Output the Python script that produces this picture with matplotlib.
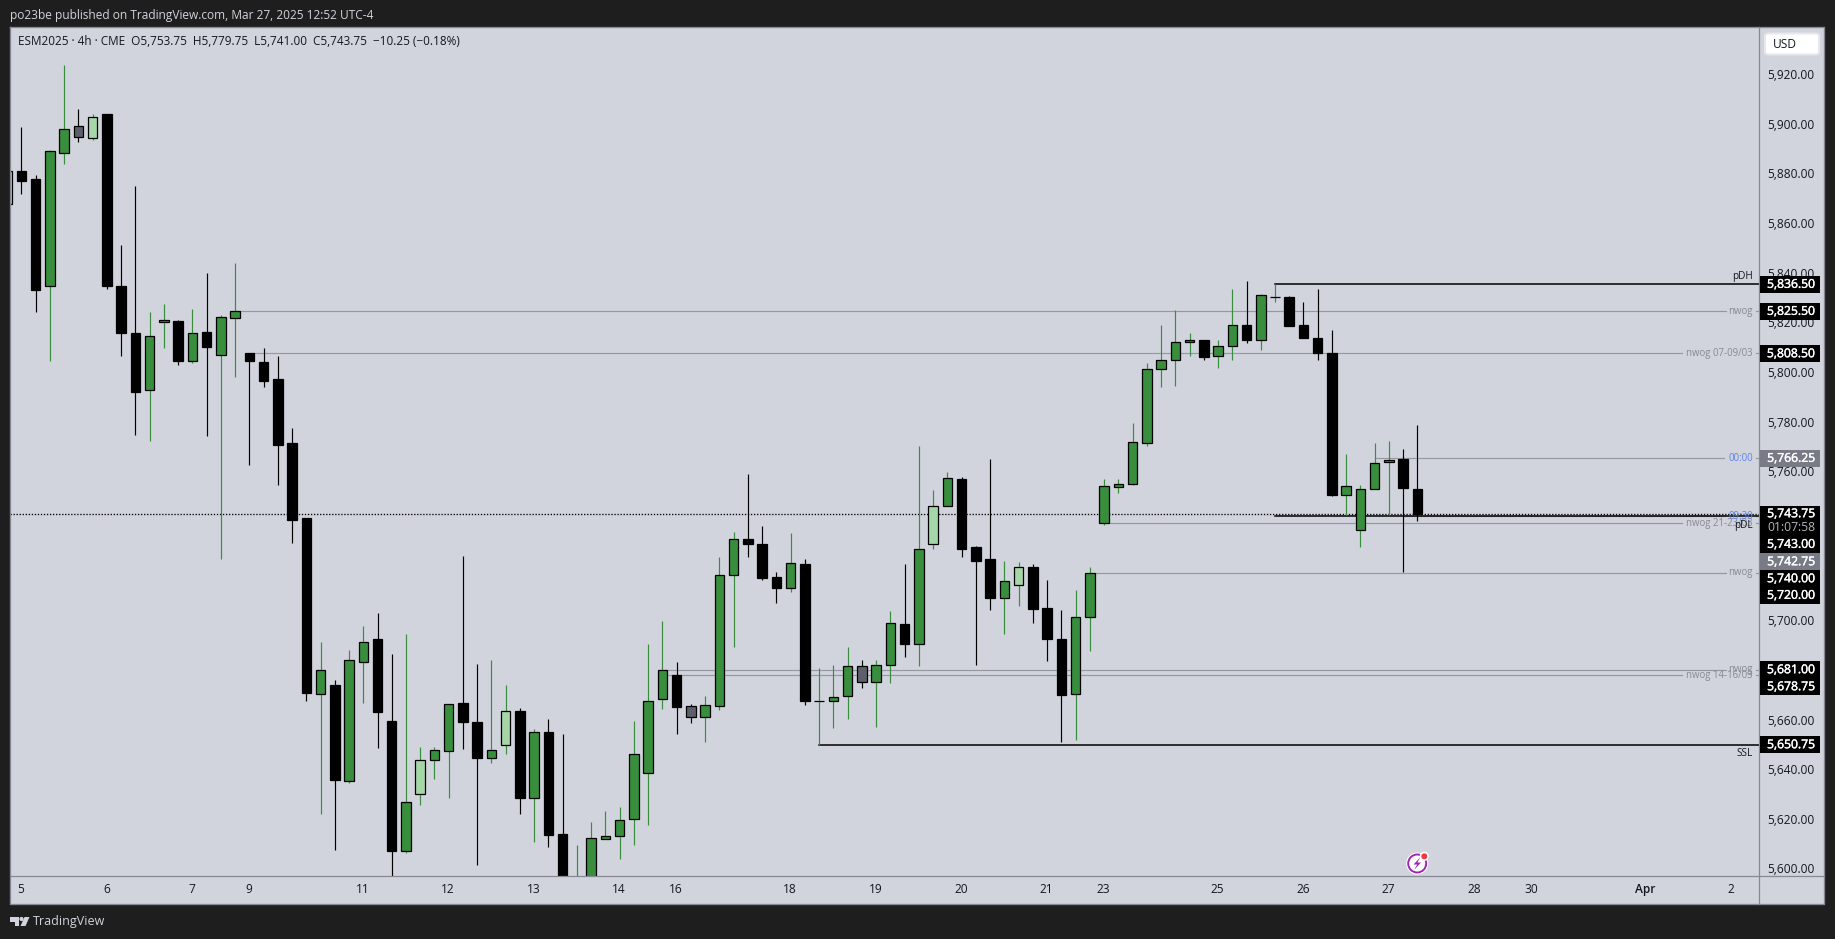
import matplotlib
matplotlib.use("Agg")
import matplotlib.pyplot as plt
import matplotlib.patheffects as pe
from matplotlib.patches import Rectangle, Circle, Polygon, FancyBboxPatch

plt.rcParams['font.family'] = ['Open Sans', 'DejaVu Sans']

W, H = 1835, 939

# Candles, oldest first. The first one is cut by the left edge of the chart.
opens = [5868.75, 5882, 5878.75, 5835.75, 5889.25, 5900, 5895.25, 5905, 5835.5, 5816.75,
         5793.75, 5821, 5821.5, 5805.5, 5817.25, 5808, 5822.75, 5808.75, 5805, 5798,
         5772.5, 5742, 5671.25, 5674.75, 5636, 5684.25, 5693.25, 5660.25, 5608, 5631,
         5644.75, 5648.25, 5667.5, 5660, 5645.5, 5650.75, 5664.25, 5629.5, 5656, 5615,
         5580, 5590, 5612.75, 5614, 5620.75, 5639.25, 5669.25, 5679, 5666.5, 5662,
         5666.5, 5719.25, 5733.75, 5731.75, 5718.25, 5713.75, 5723.75, 5668.5, 5668.25, 5670.25,
         5682.5, 5676, 5682.75, 5699.5, 5691.25, 5731.5, 5747, 5758, 5730.25, 5725.75,
         5709.75, 5715, 5722.5, 5705.75, 5693.5, 5671.25, 5702.25, 5740, 5754.5, 5755.75,
         5772.25, 5802, 5805.75, 5813, 5813.75, 5807.25, 5811.25, 5820, 5813.75, 5831.25,
         5831, 5819.75, 5814.75, 5808.75, 5751.5, 5737.25, 5753.75, 5764.75, 5765.75, 5753.75]
highs = [5882, 5899.75, 5880.5, 5890.5, 5924.5, 5907, 5905, 5905, 5852, 5875.75,
         5825.25, 5828.25, 5822, 5826.5, 5840.75, 5823.75, 5844.75, 5808.75, 5810.75, 5807.25,
         5778.25, 5742, 5692.25, 5676.75, 5688.75, 5698.75, 5703.75, 5687.5, 5695.25, 5649.75,
         5650, 5667.25, 5727, 5683.5, 5685, 5675, 5665.5, 5657, 5661.25, 5655.25,
         5610.25, 5619.75, 5624.25, 5625.5, 5660.25, 5691.25, 5700.75, 5684, 5667, 5670.5,
         5726.5, 5736.5, 5760, 5738.75, 5720.5, 5736, 5725.5, 5681.5, 5682.75, 5690,
         5685, 5684.75, 5704.75, 5723.5, 5771, 5753.25, 5760.5, 5758.75, 5730.75, 5765.75,
         5725, 5724.25, 5723.5, 5717.25, 5705.25, 5713, 5722.5, 5757.75, 5758, 5780.5,
         5804.75, 5819.75, 5825.75, 5816.5, 5813.75, 5814, 5834.25, 5837.5, 5832.5, 5836.5,
         5831.75, 5829, 5834.5, 5817.75, 5767.75, 5755.25, 5772.25, 5773, 5770, 5779.75]
lows = [5868.75, 5872.5, 5825, 5805.25, 5884.75, 5893.5, 5894.25, 5834.5, 5807.25, 5775.5,
        5773, 5810.5, 5803.75, 5804.5, 5775, 5725.5, 5798.75, 5763.5, 5794.75, 5755.25,
        5732, 5668.25, 5622.75, 5608.25, 5635.25, 5667.5, 5649.5, 5596, 5607, 5626.5,
        5637, 5629.25, 5649, 5602.25, 5643.25, 5647, 5622.75, 5611.5, 5609.5, 5585,
        5578, 5588, 5612.75, 5604.75, 5610.25, 5618.25, 5665, 5655, 5659.5, 5651.75,
        5664.75, 5690, 5726.25, 5717, 5707.75, 5712.25, 5666.75, 5650.75, 5657.5, 5661,
        5673.5, 5657.75, 5675.5, 5686.25, 5682.5, 5729.5, 5747, 5726.25, 5682.75, 5705,
        5695.25, 5706.5, 5699.75, 5684.5, 5651.75, 5652.5, 5688.5, 5739.25, 5752, 5755.25,
        5771, 5794.75, 5795.25, 5807.25, 5805.75, 5802.5, 5805.75, 5812.5, 5809.75, 5829,
        5819.5, 5814.5, 5805.75, 5751, 5743.25, 5730.5, 5753.75, 5743.25, 5720.25, 5741]
closes = [5882, 5877.75, 5834, 5890, 5899, 5895.75, 5903.75, 5835.5, 5816.5, 5792.75,
          5815.5, 5822, 5805.25, 5816.75, 5811, 5823.25, 5825.5, 5805.25, 5797.25, 5771.5,
          5741.5, 5671.5, 5681, 5636.5, 5685, 5692.25, 5664, 5608, 5627.75, 5644.75,
          5648.75, 5667.25, 5660, 5645.5, 5648.75, 5664.5, 5629.25, 5656, 5614.25, 5590,
          5595, 5613.25, 5614, 5620.5, 5647, 5668.5, 5681, 5666, 5662, 5666.75,
          5719.25, 5733.75, 5731.5, 5718, 5713.75, 5724, 5668.25, 5668.5, 5670, 5682.5,
          5676, 5683, 5700, 5691.25, 5729.75, 5747, 5758.25, 5729.5, 5725, 5709.75,
          5716.75, 5722.5, 5705.5, 5693.25, 5670.75, 5702.25, 5720, 5755, 5756, 5772.75,
          5802.25, 5805.75, 5813, 5813.75, 5807, 5811.5, 5820, 5813.75, 5832, 5831.25,
          5819.5, 5814.5, 5808.5, 5751.25, 5755, 5753.75, 5764.25, 5765.5, 5754.25, 5743.75]
first_candle = -1

# Candles recoloured on the original chart
light_candles = [-1, 5, 28, 34, 64, 70]
gray_candles = [4, 47, 59]

price_ticks = [5920, 5900, 5880, 5860, 5840, 5820, 5800, 5780, 5760, 5740,
               5720, 5700, 5680, 5660, 5640, 5620, 5600]
time_ticks = [0, 6, 12, 16, 24, 30, 36, 42, 46, 54, 60, 66, 72, 76, 84, 90, 96, 102, 106, 114, 120]
time_labels = ['5', '6', '7', '9', '11', '12', '13', '14', '16', '18', '19', '20', '21', '23',
               '25', '26', '27', '28', '30', 'Apr', '2']

# Drawn levels: price, first candle, text
gray_levels = [(5825.5, 15, 'nwog'), (5808.5, 16, 'nwog 07-09/03'), (5740, 76, 'nwog 21-23/03'),
               (5720, 75, 'nwog'), (5681, 45, 'nwog'), (5678.75, 45, 'nwog 14-16/03')]
time_levels = [(5766.25, 95, '00:00'), (5742.75, 97, '09:30')]
black_levels = [(5836.5, 88, 'pDH'), (5743, 88, 'pDL'), (5650.75, 56, 'SSL')]
last_price = 5743.75

# Price scale tags
tag_texts = ['5,836.50', '5,825.50', '5,808.50', '5,766.25', '5,743.00', '5,742.75',
             '5,740.00', '5,720.00', '5,681.00', '5,678.75', '5,650.75']
tag_centres = [284.3, 311.3, 353.7, 458.3, 544.3, 561.7, 578.7, 595.3, 669.7, 686.7, 744.7]
gray_tags = ['5,766.25', '5,742.75']

header = 'po23be published on TradingView.com, Mar 27, 2025 12:52 UTC-4'
legend = 'ESM2025 · 4h · CME  O5,753.75  H5,779.75  L5,741.00  C5,743.75  −10.25 (−0.18%)'

BG = '#d1d4dc'
DARK = '#1e1e1e'
GREEN = '#388e3c'
LIGHT = '#a5d6a7'
GRAY = '#5d606b'
LINE_GRAY = '#9598a1'
LABEL_GRAY = '#868993'
TEXT = '#131722'
FRAME = '#868993'

# Chart area in pixels
LEFT, RIGHT, TOP, BOTTOM = 10, 1759.3, 27, 876.3
STEP = 14.246
X0 = 21.35


def idx(px_x):
    return (px_x - X0) / STEP


fig = plt.figure(figsize=(W / 100, H / 100), dpi=100, facecolor=DARK)
ax = fig.add_axes([LEFT / W, 1 - BOTTOM / H, (RIGHT - LEFT) / W, (BOTTOM - TOP) / H], facecolor=BG)
ax.set_xlim(idx(LEFT), idx(RIGHT))
ax.set_ylim(5950.83 - 0.4029 * BOTTOM, 5950.83 - 0.4029 * TOP)
ax.set_xticks([])
ax.set_yticks([])
for s in ax.spines.values():
    s.set_visible(False)

# Levels sit behind the candles
end = idx(RIGHT)
gap_end = idx(1756)
ax.axhline(last_price, color='black', lw=0.95, ls=(0, (1, 1.3)), zorder=1)
for price, start, label in gray_levels:
    gap = idx(1681.7) if len(label) > 4 else idx(1726)
    ax.plot([start, gap], [price, price], color=LINE_GRAY, lw=0.85, zorder=1)
    ax.plot([gap_end, end], [price, price], color=LINE_GRAY, lw=0.85, zorder=1)
    ax.text(idx(1753), price, label, color=LABEL_GRAY, fontsize=6.95, ha='right', va='center', zorder=4)
for price, start, label in time_levels:
    ax.plot([start, idx(1724)], [price, price], color=LINE_GRAY, lw=0.85, zorder=1)
    ax.plot([gap_end, end], [price, price], color=LINE_GRAY, lw=0.85, zorder=1)
    ax.text(idx(1753), price, label, color='#5b82ea', fontsize=6.95, ha='right', va='center', zorder=4)
for price, start, label in black_levels:
    ax.plot([start, end], [price, price], color='black', lw=1.1, zorder=1.5)
    offset = 4.9 if label == 'pDH' else -6.6
    ax.annotate(label, (idx(1753), price), xytext=(0, offset), textcoords='offset points',
                color=TEXT, fontsize=7.2, ha='right', va='center', zorder=4)

# Candles
for i, (o, h, l, c) in enumerate(zip(opens, highs, lows, closes)):
    x = first_candle + i
    up = c >= o
    if x in gray_candles:
        body, wick = GRAY, 'black'
    elif x in light_candles:
        body, wick = LIGHT, GREEN
    elif up:
        body, wick = GREEN, GREEN
    else:
        body, wick = 'black', 'black'
    ax.plot([x, x], [l, h], color=wick, lw=0.85, zorder=2, solid_capstyle='butt')
    ax.bar(x, abs(c - o), bottom=min(o, c), width=0.667, color=body, edgecolor='black', linewidth=0.9, zorder=3)

# Everything around the chart goes on a pixel overlay
px = fig.add_axes([0, 0, 1, 1], facecolor='none')
px.set_xlim(0, W)
px.set_ylim(H, 0)
px.axis('off')

px.add_patch(Rectangle((RIGHT, TOP), 1824.3 - RIGHT, 903.7 - TOP, fc=BG, ec='none', zorder=1))
px.add_patch(Rectangle((LEFT, BOTTOM), RIGHT - LEFT, 903.7 - BOTTOM, fc=BG, ec='none', zorder=1))
px.plot([LEFT, 1824.3, 1824.3, LEFT, LEFT], [TOP - 0.5, TOP - 0.5, 903.5, 903.5, TOP - 0.5],
        color=FRAME, lw=0.95, zorder=2)
px.plot([RIGHT, RIGHT], [TOP, 903.5], color=FRAME, lw=0.9, zorder=2)
px.plot([LEFT, 1824.3], [BOTTOM, BOTTOM], color=FRAME, lw=0.9, zorder=2)

px.text(10, 15, header, color='#d1d4dc', fontsize=8.6, ha='left', va='center')
px.text(18, 41.5, legend, color=TEXT, fontsize=8.48, ha='left', va='center', zorder=6)

# Time axis
for t, label in zip(time_ticks, time_labels):
    weight = 'semibold' if label == 'Apr' else 'normal'
    px.text(X0 + STEP * t - 0.5, 889.5, label, color=TEXT, fontsize=8.6, ha='center', va='center', fontweight=weight)

# Price axis
for p in price_ticks:
    y = (5951.03 - p) / 0.4029 - 1.3
    px.text(1791, y, f'{p:,.2f}', color=TEXT, fontsize=8.6, ha='center', va='center', zorder=3)

thicker = [pe.withStroke(linewidth=0.3, foreground='white')]
for text, y in zip(tag_texts, tag_centres):
    colour = '#787b86' if text in gray_tags else 'black'
    px.add_patch(Rectangle((RIGHT + 0.5, y - 8.5), 1819.7 - RIGHT, 17, fc=colour, ec='none', zorder=4))
    px.text(1791, y, text, color='white', fontsize=8.75, ha='center', va='center', zorder=5, path_effects=thicker)

# Last price tag with the bar countdown
px.add_patch(Rectangle((RIGHT + 0.5, 506.3), 1819.7 - RIGHT, 30, fc='black', ec='none', zorder=4))
px.text(1791, 513.7, '5,743.75', color='white', fontsize=8.75, ha='center', va='center', zorder=5, path_effects=thicker)
px.text(1791, 527.7, '01:07:58', color='#b2b5be', fontsize=8.75, ha='center', va='center', zorder=5)

# Currency button
px.add_patch(FancyBboxPatch((1765, 33.5), 54, 21, boxstyle='round,pad=0,rounding_size=3',
                            fc='white', ec='#e6e8ee', lw=1.5, zorder=4))
px.text(1772.5, 45, 'USD', color=TEXT, fontsize=8.6, ha='left', va='center', zorder=5)

# Lightning badge
px.add_patch(Circle((1417.2, 863.5), 11, fc='white', ec='none', zorder=5))
px.add_patch(Circle((1417.2, 863.5), 9, fc='white', ec='#9c27b0', lw=1.4, zorder=6))
px.add_patch(Polygon([(1420.5, 857), (1413.5, 864.5), (1417.2, 864.5), (1414, 870),
                      (1421, 862.5), (1417.3, 862.5)], fc='#9c27b0', ec='none', zorder=7))
px.add_patch(Circle((1424.3, 856.3), 4.6, fc='white', ec='none', zorder=7))
px.add_patch(Circle((1424.3, 856.3), 3, fc='#f23645', ec='none', zorder=8))

# TradingView mark in the footer
LOGO = '#d1d4dc'
px.add_patch(Polygon([(10, 917), (19, 917), (19, 926), (14.5, 926), (14.5, 921.5), (10, 921.5)], fc=LOGO, ec='none'))
px.add_patch(Circle((21.5, 919), 2.1, fc=LOGO, ec='none'))
px.add_patch(Polygon([(24.5, 917), (29.5, 917), (25.5, 926), (20.5, 926)], fc=LOGO, ec='none'))
px.text(33, 921.5, 'TradingView', color=LOGO, fontsize=9.0, ha='left', va='center')

fig.savefig('out.png', dpi=100, facecolor=DARK)
